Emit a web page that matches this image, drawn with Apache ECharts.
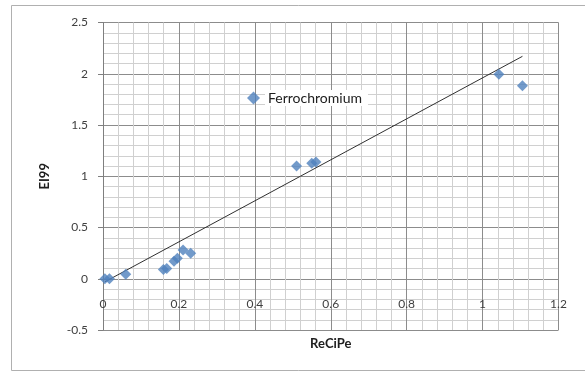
<!DOCTYPE html>
<html>
<head>
<meta charset="utf-8">
<script src="https://cdn.jsdelivr.net/npm/echarts@6/dist/echarts.min.js"></script>
<style>
  html, body { margin: 0; padding: 0; background: #fff; }
  #chart { width: 585px; height: 372px; }
</style>
</head>
<body>
<div id="chart"></div>
<script>
// ReCiPe vs EI99 scores for ferrochromium production
const seriesName = 'Ferrochromium';
const recipeValues = [0.005, 0.017, 0.06, 0.159, 0.168, 0.187, 0.196, 0.211, 0.231, 0.51, 0.55, 0.561, 1.043, 1.105];
const ei99Values   = [0.0,   0.0,   0.043, 0.09, 0.10,  0.17,  0.20,  0.28,  0.248, 1.10, 1.126, 1.14, 1.994, 1.883];

// linear trend line endpoints
const trendX = [0.005, 1.105];
const trendY = [-0.03, 2.17];

const xTicks = { min: 0, max: 1.2, interval: 0.2 };
const yTicks = { min: -0.5, max: 2.5, interval: 0.5 };

const labelFont = 'Lato, "Open Sans", sans-serif';

const chart = echarts.init(document.getElementById('chart'), null, { renderer: 'canvas' });

chart.setOption({
  animation: false,
  backgroundColor: '#fff',
  graphic: [{
    type: 'rect',
    shape: { x: 11.5, y: 5.5, width: 600, height: 365 },
    style: { fill: 'none', stroke: '#b0b0b0', lineWidth: 1 },
    z: -10, silent: true
  }],
  grid: { left: 103, right: 26.5, top: 22.5, bottom: 42, containLabel: false, outerBoundsMode: 'none' },
  legend: {
    data: [seriesName],
    left: 247, top: 90,
    icon: 'diamond',
    itemWidth: 13, itemHeight: 13, itemGap: 0,
    padding: 0,
    textStyle: {
      fontFamily: labelFont, fontSize: 14, color: '#202020',
      backgroundColor: '#fff', padding: [1, 6, 1, 3]
    }
  },
  xAxis: {
    type: 'value',
    min: xTicks.min, max: xTicks.max, interval: xTicks.interval,
    name: 'ReCiPe', nameLocation: 'middle', nameGap: 7,
    nameTextStyle: { fontFamily: labelFont, fontSize: 13, fontWeight: 'bold', color: '#202020' },
    axisLine: { show: false },
    axisTick: { show: false },
    // labels sit just under the zero line, inside the plot
    axisLabel: { margin: -32, fontFamily: labelFont, fontSize: 12, color: '#404040',
      formatter: v => String(Math.round(v * 10) / 10) },
    splitLine: { show: true, lineStyle: { color: '#8c8c8c', width: 1 } },
    minorTick: { show: false, splitNumber: 5 },
    minorSplitLine: { show: true, lineStyle: { color: '#d0d0d0', width: 1 } }
  },
  yAxis: {
    type: 'value',
    min: yTicks.min, max: yTicks.max, interval: yTicks.interval,
    name: 'EI99', nameLocation: 'middle', nameGap: 52, nameRotate: 90,
    nameTextStyle: { fontFamily: labelFont, fontSize: 13, fontWeight: 'bold', color: '#202020' },
    axisLine: { show: true, onZero: false, lineStyle: { color: '#7f7f7f', width: 1 } },
    axisTick: { show: true, inside: false, length: 5, lineStyle: { color: '#7f7f7f' } },
    axisLabel: { margin: 15, fontFamily: labelFont, fontSize: 12, color: '#404040',
      formatter: v => String(Math.round(v * 10) / 10) },
    splitLine: { show: true, lineStyle: { color: '#8c8c8c', width: 1 } },
    minorTick: { show: false, splitNumber: 5 },
    minorSplitLine: { show: true, lineStyle: { color: '#d0d0d0', width: 1 } }
  },
  series: [
    {
      name: 'trend',
      type: 'line',
      data: trendX.map((x, i) => [x, trendY[i]]),
      showSymbol: false,
      lineStyle: { color: '#303030', width: 1 },
      z: 3,
      silent: true
    },
    {
      name: seriesName,
      type: 'scatter',
      symbol: 'diamond',
      symbolSize: 11,
      itemStyle: { color: '#4f81bd' },
      data: recipeValues.map((x, i) => [x, ei99Values[i]]),
      z: 4
    }
  ]
});
</script>
</body>
</html>
